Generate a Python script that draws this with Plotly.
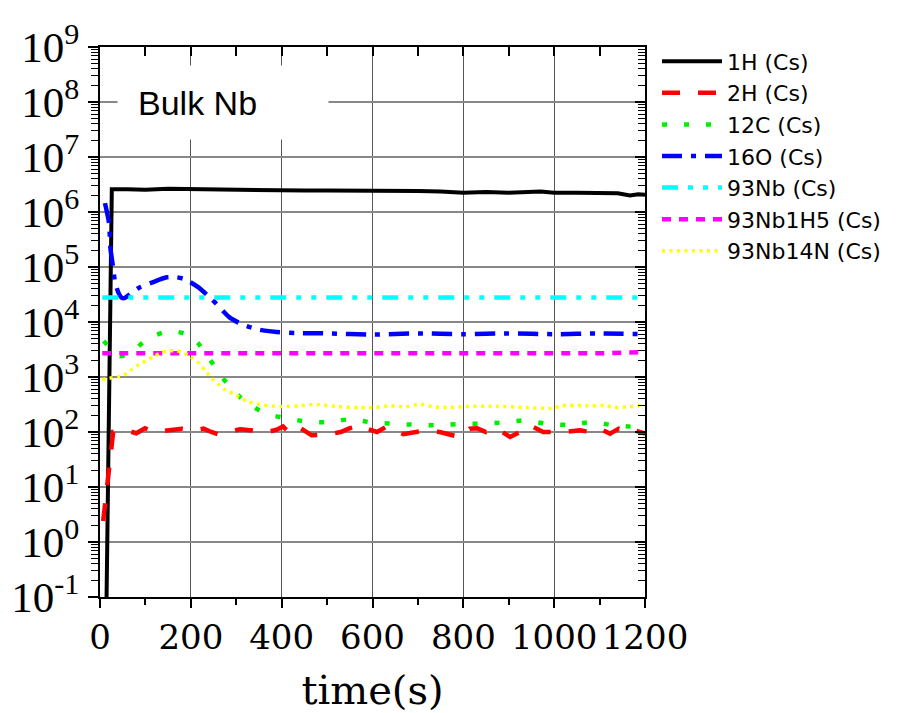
import plotly.graph_objects as go

# ---------------- data ----------------
t_1H = [14, 26, 60, 100, 150, 200, 250, 300, 350, 400, 450, 500, 550, 600, 650, 700, 750, 800, 850, 900, 970, 1000, 1050, 1100, 1140, 1167, 1185, 1200]
v_1H = [0.05, 2.6e6, 2.6e6, 2.55e6, 2.65e6, 2.6e6, 2.55e6, 2.5e6, 2.5e6, 2.45e6, 2.45e6, 2.45e6, 2.45e6, 2.5e6, 2.45e6, 2.4e6, 2.35e6, 2.25e6, 2.3e6, 2.25e6, 2.35e6, 2.25e6, 2.25e6, 2.2e6, 2.2e6, 2.0e6, 2.1e6, 2.05e6]

t_2H = [7, 29, 45, 62, 80, 99, 120, 143, 160, 180, 205, 228, 245, 260, 285, 308, 345, 370, 389, 403, 418, 440, 466, 506, 530, 550, 576, 587, 610, 631, 668, 690, 712, 748, 770, 792, 814, 830, 850, 874, 903, 925, 947, 976, 1000, 1021, 1057, 1080, 1101, 1123, 1142, 1160, 1178, 1197, 1200]
v_2H = [2.4, 100, 100, 105, 95, 117, 100, 105, 110, 115, 107, 115, 100, 91, 100, 112, 105, 100, 110, 126, 95, 120, 87, 91, 100, 117, 132, 115, 100, 126, 91, 100, 105, 100, 89, 81, 115, 117, 100, 115, 81, 100, 132, 100, 100, 100, 107, 100, 115, 93, 115, 100, 107, 93, 93]

t_12C = [8, 20, 44, 70, 95, 120, 143, 170, 193, 215, 235, 250, 266, 290, 310, 335, 356, 380, 405, 455, 502, 550, 601, 649, 697, 748, 796, 844, 892, 936, 984, 1032, 1083, 1131, 1178, 1200]
v_12C = [4500, 3550, 2400, 2800, 4300, 5600, 6600, 6600, 5900, 4200, 2500, 1660, 1050, 630, 420, 295, 235, 200, 182, 155, 151, 170, 148, 141, 135, 132, 141, 141, 151, 162, 141, 135, 151, 132, 123, 112]

t_16O = [11, 20, 23, 29, 33, 40, 48, 55, 70, 86, 114, 147, 169, 187, 216, 246, 286, 315, 352, 389, 430, 500, 600, 700, 800, 900, 1000, 1100, 1200]
v_16O = [1.45e6, 6.2e5, 2.2e5, 9.5e4, 5.4e4, 3.5e4, 2.75e4, 2.75e4, 3.4e4, 4.2e4, 5.2e4, 6.5e4, 6.5e4, 6.0e4, 4.3e4, 2.6e4, 1.2e4, 8900, 7200, 6600, 6300, 6200, 5900, 6200, 6000, 6200, 6000, 6200, 6000]

t_93Nb = [5, 100, 200, 300, 400, 500, 600, 700, 800, 900, 1000, 1100, 1200]
v_93Nb = [2.8e4, 2.8e4, 2.85e4, 2.8e4, 2.8e4, 2.8e4, 2.8e4, 2.75e4, 2.8e4, 2.8e4, 2.8e4, 2.75e4, 2.8e4]

t_NbH5 = [5, 100, 200, 300, 400, 500, 600, 700, 800, 900, 1000, 1100, 1200]
v_NbH5 = [2700, 2650, 2700, 2700, 2700, 2600, 2650, 2650, 2600, 2600, 2650, 2700, 2850]

t_NbN = [5, 20, 50, 70, 86, 103, 120, 136, 152, 168, 183, 200, 216, 231, 246, 260, 277, 295, 326, 359, 396, 440, 473, 525, 572, 605, 638, 671, 704, 737, 770, 803, 866, 932, 999, 1017, 1070, 1116, 1131, 1160, 1200]
v_NbN = [900, 950, 1050, 1380, 1700, 2000, 2400, 2800, 3000, 3000, 2800, 2300, 1850, 1320, 950, 740, 575, 490, 355, 310, 290, 300, 316, 290, 275, 280, 300, 285, 320, 285, 280, 290, 295, 280, 270, 305, 300, 300, 280, 285, 310]

series_names = ["1H (Cs)", "2H (Cs)", "12C (Cs)", "16O (Cs)", "93Nb (Cs)", "93Nb1H5 (Cs)", "93Nb14N (Cs)"]
x_ticks = [0, 200, 400, 600, 800, 1000, 1200]
x_minor = [100, 300, 500, 700, 900, 1100]
y_exps = [-1, 0, 1, 2, 3, 4, 5, 6, 7, 8, 9]
y_ticks = [10.0 ** e for e in y_exps]
y_text = ["10<sup>%d</sup>" % e for e in y_exps]
y_minor = [m * 10.0 ** e for e in y_exps[:-1] for m in range(2, 10)]

# ---------------- styles ----------------
styles = [
    dict(color="#000000", width=4, dash="solid", shape="linear"),
    dict(color="#ff0000", width=4.5, dash="18px,18px", shape="linear"),
    dict(color="#00ee00", width=4.5, dash="5px,17px", shape="spline"),
    dict(color="#0000ff", width=4.5, dash="20px,9px,5px,9px", shape="spline"),
    dict(color="#00ffff", width=4.5, dash="16px,10px,5px,10px,5px,10px", shape="linear"),
    dict(color="#ff00ff", width=4.5, dash="9px,8px", shape="linear"),
    dict(color="#ffff00", width=3.5, dash="3px,4.5px", shape="spline"),
]
data = [(t_1H, v_1H), (t_2H, v_2H), (t_12C, v_12C), (t_16O, v_16O),
        (t_93Nb, v_93Nb), (t_NbH5, v_NbH5), (t_NbN, v_NbN)]

fig = go.Figure()
for i in range(7):
    t, v = data[i]
    s = styles[i]
    fig.add_trace(go.Scatter(
        x=t, y=v, mode="lines", name=series_names[i],
        line=dict(color=s["color"], width=s["width"], dash=s["dash"], shape=s["shape"], smoothing=0.6),
        legendrank=i + 1,
    ))

# helper trace for mirrored (top / right) axes
fig.add_trace(go.Scatter(x=[], y=[], xaxis="x2", yaxis="y2", showlegend=False, hoverinfo="skip"))

serif_x = "DejaVu Serif"
serif_y = "Liberation Serif"
fig.update_layout(
    width=898, height=713,
    margin=dict(l=100, r=253, t=47, b=116),
    paper_bgcolor="white", plot_bgcolor="white",
    showlegend=True,
    legend=dict(
        x=1.022, y=1.012, xanchor="left", yanchor="top",
        font=dict(family="DejaVu Sans", size=22, color="black"),
        bgcolor="rgba(0,0,0,0)", borderwidth=0,
        itemwidth=60, tracegroupgap=0, traceorder="normal",
    ),
    xaxis=dict(
        range=[0, 1200], tickmode="array", tickvals=x_ticks,
        ticktext=[str(v) for v in x_ticks], tickangle=0, automargin=False,
        ticks="outside", ticklen=9, tickwidth=1.5, tickcolor="black",
        minor=dict(ticks="outside", tickmode="array", tickvals=x_minor, ticklen=6, tickwidth=1.5,
                   tickcolor="black", showgrid=False),
        showline=True, linecolor="black", linewidth=2,
        showgrid=True, gridcolor="#555555", gridwidth=1.3,
        zeroline=False,
        tickfont=dict(family=serif_x, size=34, color="black"),
        title=dict(text="time(s)", font=dict(family=serif_x, size=40, color="black"), standoff=20),
    ),
    yaxis=dict(
        type="log", range=[-1, 9], tickmode="array", tickvals=y_ticks, ticktext=y_text,
        automargin=False,
        ticks="outside", ticklen=10, tickwidth=1.5, tickcolor="black",
        minor=dict(ticks="outside", tickmode="array", tickvals=y_minor, ticklen=7, tickwidth=1.2,
                   tickcolor="black", showgrid=False),
        showline=True, linecolor="black", linewidth=2,
        showgrid=True, gridcolor="#888888", gridwidth=1.6,
        zeroline=False,
        tickfont=dict(family=serif_y, size=43, color="black"),
    ),
    xaxis2=dict(
        overlaying="x", side="top", matches="x", anchor="y2", automargin=False,
        tickmode="array", tickvals=x_ticks + x_minor, ticks="inside", ticklen=9, tickwidth=1.5, tickcolor="black",
        showticklabels=False, showgrid=False, showline=True, linecolor="black", linewidth=2, zeroline=False,
    ),
    yaxis2=dict(
        overlaying="y", side="right", matches="y", type="log", anchor="x2", automargin=False,
        tickmode="array", tickvals=y_ticks, ticks="inside", ticklen=10, tickwidth=1.5, tickcolor="black",
        minor=dict(ticks="inside", tickmode="array", tickvals=y_minor, ticklen=7, tickwidth=1.2,
                   tickcolor="black", showgrid=False),
        showticklabels=False, showgrid=False, showline=True, linecolor="black", linewidth=2, zeroline=False,
    ),
)

fig.add_annotation(
    xref="paper", yref="paper", x=0.031, y=0.967, xanchor="left", yanchor="top",
    text="Bulk Nb", showarrow=False, align="left",
    font=dict(family="Liberation Sans", size=34, color="black"),
    bgcolor="white", borderpad=20, width=170, height=33,
)

fig.write_html("out.html")
